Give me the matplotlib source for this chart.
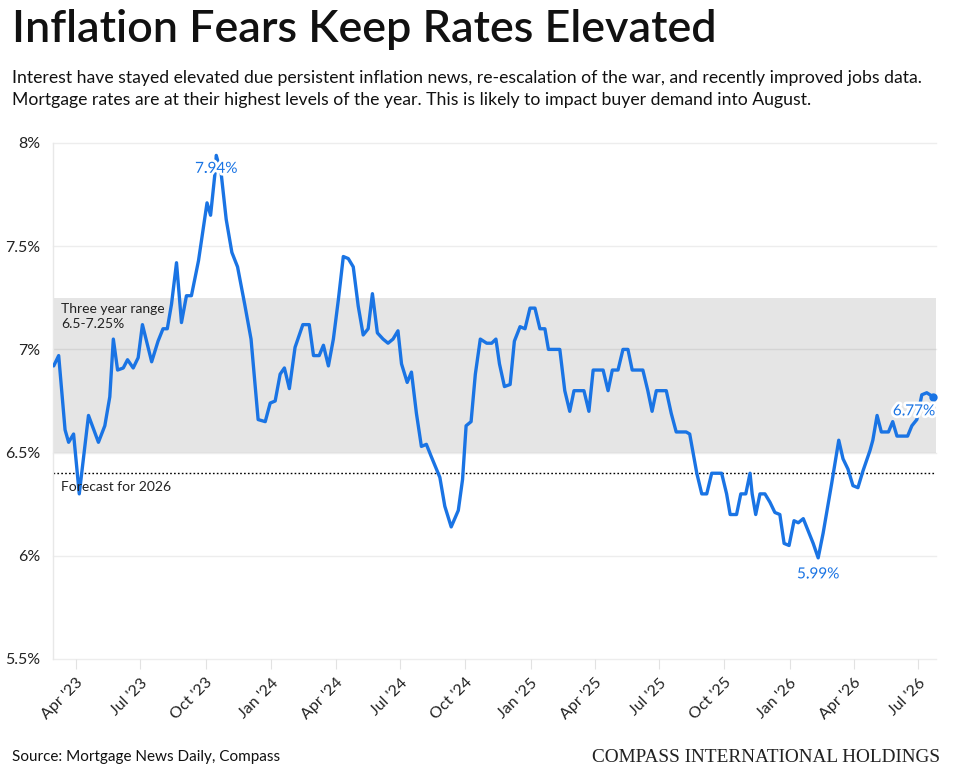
import matplotlib
matplotlib.use("Agg")
import matplotlib.pyplot as plt
import matplotlib.patheffects as pe
import pandas as pd

plt.rcParams['font.family'] = ['Lato', 'DejaVu Sans']

# ---- data ----
dates = [
    "2023-03-01", "2023-03-08", "2023-03-17", "2023-03-22", "2023-03-29", "2023-04-06",
    "2023-04-19", "2023-05-03", "2023-05-12", "2023-05-19", "2023-05-24", "2023-05-30",
    "2023-06-07", "2023-06-13", "2023-06-21", "2023-06-28", "2023-07-04", "2023-07-17",
    "2023-07-26", "2023-08-02", "2023-08-08", "2023-08-14", "2023-08-21", "2023-08-28",
    "2023-09-04", "2023-09-11", "2023-09-21", "2023-10-03", "2023-10-08", "2023-10-15",
    "2023-10-16", "2023-10-23", "2023-10-30", "2023-11-07", "2023-11-15", "2023-11-25",
    "2023-12-04", "2023-12-14", "2023-12-24", "2023-12-31", "2024-01-07", "2024-01-14",
    "2024-01-20", "2024-01-27", "2024-02-04", "2024-02-15", "2024-02-24", "2024-03-01",
    "2024-03-09", "2024-03-15", "2024-03-22", "2024-03-29", "2024-04-05", "2024-04-12",
    "2024-04-19", "2024-04-26", "2024-05-03", "2024-05-10", "2024-05-17", "2024-05-23",
    "2024-05-30", "2024-06-07", "2024-06-14", "2024-06-21", "2024-06-28", "2024-07-03",
    "2024-07-11", "2024-07-17", "2024-07-24", "2024-07-31", "2024-08-07", "2024-08-14",
    "2024-08-26", "2024-09-02", "2024-09-11", "2024-09-21", "2024-09-27", "2024-10-02",
    "2024-10-09", "2024-10-15", "2024-10-22", "2024-10-31", "2024-11-07", "2024-11-13",
    "2024-11-18", "2024-11-25", "2024-12-03", "2024-12-09", "2024-12-17", "2024-12-24",
    "2024-12-31", "2025-01-07", "2025-01-14", "2025-01-21", "2025-01-26", "2025-02-11",
    "2025-02-18", "2025-02-25", "2025-03-03", "2025-03-17", "2025-03-24", "2025-03-30",
    "2025-04-13", "2025-04-20", "2025-04-26", "2025-05-04", "2025-05-11", "2025-05-18",
    "2025-05-24", "2025-06-08", "2025-06-15", "2025-06-21", "2025-06-27", "2025-07-11",
    "2025-07-18", "2025-07-25", "2025-08-08", "2025-08-13", "2025-08-23", "2025-08-30",
    "2025-09-06", "2025-09-13", "2025-09-27", "2025-10-04", "2025-10-09", "2025-10-18",
    "2025-10-24", "2025-10-31", "2025-11-06", "2025-11-09", "2025-11-14", "2025-11-20",
    "2025-11-27", "2025-12-04", "2025-12-11", "2025-12-18", "2025-12-24", "2025-12-31",
    "2026-01-07", "2026-01-13", "2026-01-20", "2026-01-27", "2026-02-03", "2026-02-10",
    "2026-02-17", "2026-03-01", "2026-03-11", "2026-03-17", "2026-03-24", "2026-03-31",
    "2026-04-07", "2026-04-14", "2026-04-24", "2026-04-28", "2026-05-04", "2026-05-10",
    "2026-05-20", "2026-05-26", "2026-06-01", "2026-06-16", "2026-06-22", "2026-06-29",
    "2026-07-06", "2026-07-13", "2026-07-22",
]
rates = [
    6.92, 6.97, 6.61, 6.55, 6.59, 6.30,
    6.68, 6.55, 6.63, 6.77, 7.05, 6.90,
    6.91, 6.95, 6.91, 6.96, 7.12, 6.94,
    7.04, 7.10, 7.10, 7.22, 7.42, 7.13,
    7.26, 7.26, 7.43, 7.71, 7.65, 7.88,
    7.94, 7.85, 7.63, 7.47, 7.40, 7.22,
    7.05, 6.66, 6.65, 6.74, 6.75, 6.88,
    6.91, 6.81, 7.01, 7.12, 7.12, 6.97,
    6.97, 7.02, 6.92, 7.05, 7.24, 7.45,
    7.44, 7.40, 7.21, 7.07, 7.10, 7.27,
    7.08, 7.05, 7.03, 7.05, 7.09, 6.93,
    6.84, 6.89, 6.69, 6.53, 6.54, 6.48,
    6.38, 6.24, 6.14, 6.22, 6.37, 6.63,
    6.65, 6.88, 7.05, 7.03, 7.03, 7.05,
    6.93, 6.82, 6.83, 7.04, 7.11, 7.10,
    7.20, 7.20, 7.10, 7.10, 7.00, 7.00,
    6.80, 6.70, 6.80, 6.80, 6.70, 6.90,
    6.90, 6.80, 6.90, 6.90, 7.00, 7.00,
    6.90, 6.90, 6.80, 6.70, 6.80, 6.80,
    6.69, 6.60, 6.60, 6.59, 6.40, 6.30,
    6.30, 6.40, 6.40, 6.30, 6.20, 6.20,
    6.30, 6.30, 6.40, 6.30, 6.20, 6.30,
    6.30, 6.26, 6.21, 6.20, 6.06, 6.05,
    6.17, 6.16, 6.18, 6.12, 6.06, 5.99,
    6.11, 6.35, 6.56, 6.47, 6.42, 6.34,
    6.33, 6.41, 6.51, 6.56, 6.68, 6.60,
    6.60, 6.65, 6.58, 6.58, 6.63, 6.66,
    6.78, 6.79, 6.77,
]
range_low, range_high = 6.5, 7.25
forecast_2026 = 6.4
y_ticks = [5.5, 6.0, 6.5, 7.0, 7.5, 8.0]
y_tick_labels = ["5.5%", "6%", "6.5%", "7%", "7.5%", "8%"]
x_tick_dates = ["2023-04-01", "2023-07-01", "2023-10-01", "2024-01-01", "2024-04-01",
                "2024-07-01", "2024-10-01", "2025-01-01", "2025-04-01", "2025-07-01",
                "2025-10-01", "2026-01-01", "2026-04-01", "2026-07-01"]
x_tick_labels = ["Apr '23", "Jul '23", "Oct '23", "Jan '24", "Apr '24", "Jul '24",
                 "Oct '24", "Jan '25", "Apr '25", "Jul '25", "Oct '25", "Jan '26",
                 "Apr '26", "Jul '26"]
callouts = [("2023-10-16", 7.94, "7.94%"), ("2026-02-10", 5.99, "5.99%"),
            ("2026-07-22", 6.77, "6.77%")]

title = "Inflation Fears Keep Rates Elevated"
subtitle = ("Interest have stayed elevated due persistent inflation news, re-escalation of the war, and recently improved jobs data.\n"
            "Mortgage rates are at their highest levels of the year. This is likely to impact buyer demand into August.")
source = "Source: Mortgage News Daily, Compass"
brand = "COMPASS INTERNATIONAL HOLDINGS"

# ---- plot ----
BLUE = "#1a74e4"
x = pd.to_datetime(dates)

fig = plt.figure(figsize=(9.76, 7.70), dpi=100)
ax = fig.add_axes([53 / 976, 1 - 659 / 770, (936 - 53) / 976, (659 - 143) / 770])

ax.axhspan(range_low, range_high, color="#e5e5e5", zorder=0, lw=0)
for yt in y_ticks:
    ax.axhline(yt, color="black", alpha=0.07, lw=1, zorder=1, clip_on=False)
ax.axhline(forecast_2026, color="black", lw=1, ls=(0, (1.2, 1.6)), zorder=2)

ax.plot(x, rates, color=BLUE, lw=2.4, solid_joinstyle="round",
        solid_capstyle="round", zorder=3)
ax.plot(x[-1:], rates[-1:], "o", color=BLUE, ms=6, mew=0, zorder=4, clip_on=False)

ax.set_xlim(pd.Timestamp("2023-02-28"), pd.Timestamp("2026-07-26"))
ax.set_ylim(5.5, 8.0)

ax.set_yticks(y_ticks)
ax.set_yticklabels(y_tick_labels)
ax.set_xticks(pd.to_datetime(x_tick_dates))
ax.set_xticklabels(x_tick_labels, rotation=45, ha="right", rotation_mode="anchor")
ax.tick_params(axis="y", length=0, pad=9, labelsize=11.5, labelcolor="#222222")
ax.tick_params(axis="x", length=7, width=0.8, color="#e2e2e2", pad=5,
               labelsize=11.5, labelcolor="#222222")
for s in ax.spines.values():
    s.set_visible(False)
ax.spines["left"].set_visible(True)
ax.spines["left"].set_color("#e8e8e8")
ax.spines["left"].set_linewidth(1)

ax.text(pd.Timestamp("2023-03-11"), 7.225, "Three year range\n6.5-7.25%",
        fontsize=10, color="#222222", va="top", ha="left", linespacing=1.35)
ax.text(pd.Timestamp("2023-03-11"), 6.36, "Forecast for 2026",
        fontsize=10, color="#222222", va="top", ha="left")

halo = [pe.withStroke(linewidth=4, foreground="white")]
offsets = {"7.94%": (0, -0.065), "5.99%": (0, -0.08), "6.77%": (-27, -0.07)}
for d, v, lab in callouts:
    dx, dy = offsets[lab]
    ax.text(pd.Timestamp(d) + pd.Timedelta(days=dx), v + dy, lab, color=BLUE,
            fontsize=11, ha="center", va="center", zorder=5, path_effects=halo)

fig.text(12 / 976, 1 - 30 / 770, title, fontsize=32.3, fontweight="semibold",
         color="#111111", va="center", ha="left")
fig.text(12 / 976, 1 - 89 / 770, subtitle, fontsize=12.7, color="#111111",
         va="center", ha="left", linespacing=1.4)
fig.text(12 / 976, 1 - 757 / 770, source, fontsize=11, color="#111111",
         va="center", ha="left")
fig.text(940 / 976, 1 - 757 / 770, brand, fontsize=13.9, color="#222222",
         va="center", ha="right", family=["Liberation Serif", "DejaVu Serif"])

fig.savefig("out.png", dpi=100, facecolor="white")
